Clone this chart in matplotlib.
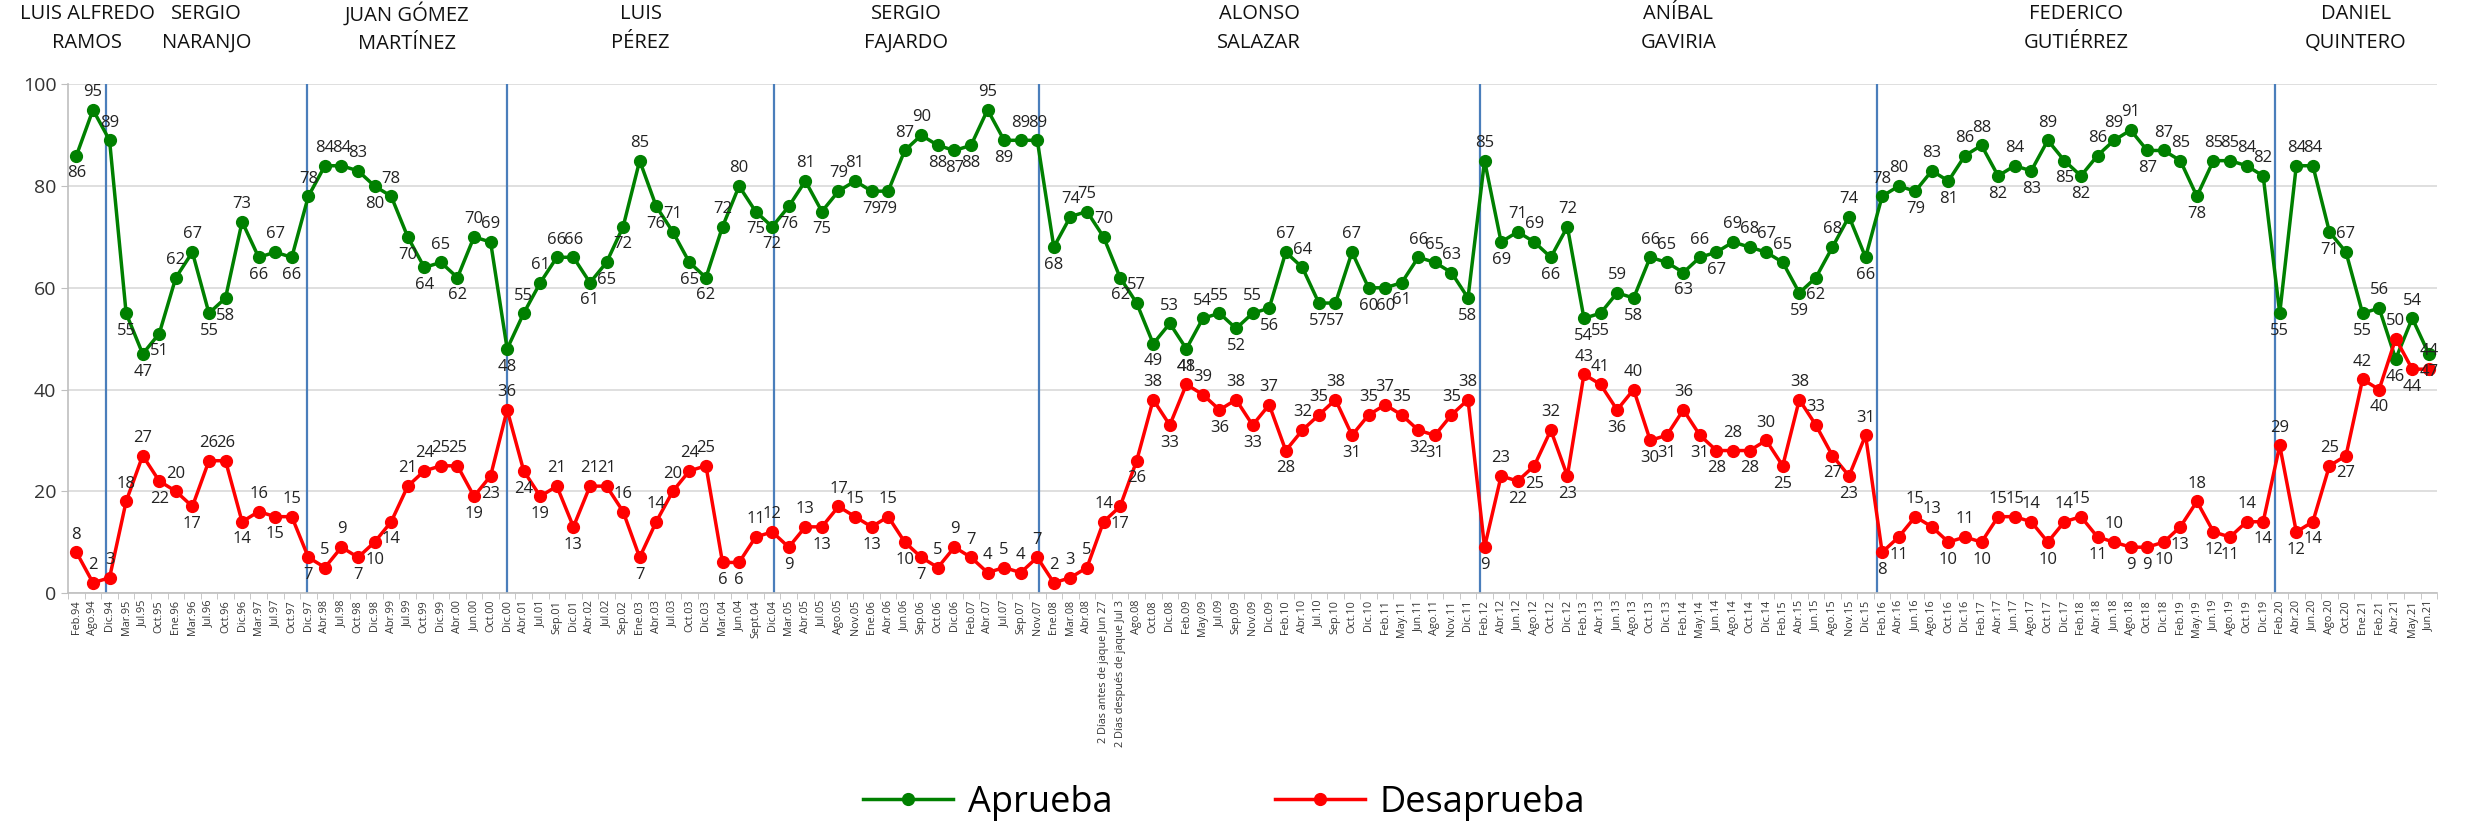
import matplotlib
matplotlib.use("Agg")
import matplotlib.pyplot as plt
import numpy as np

plt.rcParams['font.family'] = ['Open Sans', 'DejaVu Sans']

# Fechas de las encuestas
fechas = ['Feb.94', 'Ago.94', 'Dic.94', 'Mar.95', 'Jul.95', 'Oct.95', 'Ene.96', 'Mar.96', 'Jul.96', 'Oct.96',
          'Dic.96', 'Mar.97', 'Jul.97', 'Oct.97', 'Dic.97', 'Abr.98', 'Jul.98', 'Oct.98', 'Dic.98', 'Abr.99',
          'Jul.99', 'Oct.99', 'Dic.99', 'Abr.00', 'Jun.00', 'Oct.00', 'Dic.00', 'Abr.01', 'Jul.01', 'Sep.01',
          'Dic.01', 'Abr.02', 'Jul.02', 'Sep.02', 'Ene.03', 'Abr.03', 'Jul.03', 'Oct.03', 'Dic.03', 'Mar.04',
          'Jun.04', 'Sept.04', 'Dic.04', 'Mar.05', 'Abr.05', 'Jul.05', 'Ago.05', 'Nov.05', 'Ene.06', 'Abr.06',
          'Jun.06', 'Sep.06', 'Oct.06', 'Dic.06', 'Feb.07', 'Abr.07', 'Jul.07', 'Sep.07', 'Nov.07', 'Ene.08',
          'Mar.08', 'Abr.08', '2 Días antes de jaque Jun 27', '2 Días después de jaque Jul 3', 'Ago.08',
          'Oct.08', 'Dic.08', 'Feb.09', 'May.09', 'Jul.09', 'Sep.09', 'Nov.09', 'Dic.09', 'Feb.10', 'Abr.10',
          'Jul.10', 'Sep.10', 'Oct.10', 'Dic.10', 'Feb.11', 'May.11', 'Jun.11', 'Ago.11', 'Nov.11', 'Dic.11',
          'Feb.12', 'Abr.12', 'Jun.12', 'Ago.12', 'Oct.12', 'Dic.12', 'Feb.13', 'Abr.13', 'Jun.13', 'Ago.13',
          'Oct.13', 'Dic.13', 'Feb.14', 'May.14', 'Jun.14', 'Ago.14', 'Oct.14', 'Dic.14', 'Feb.15', 'Abr.15',
          'Jun.15', 'Ago.15', 'Nov.15', 'Dic.15', 'Feb.16', 'Abr.16', 'Jun.16', 'Ago.16', 'Oct.16', 'Dic.16',
          'Feb.17', 'Abr.17', 'Jun.17', 'Ago.17', 'Oct.17', 'Dic.17', 'Feb.18', 'Abr.18', 'Jun.18', 'Ago.18',
          'Oct.18', 'Dic.18', 'Feb.19', 'May.19', 'Jun.19', 'Ago.19', 'Oct.19', 'Dic.19', 'Feb.20', 'Abr.20',
          'Jun.20', 'Ago.20', 'Oct.20', 'Ene.21', 'Feb.21', 'Abr.21', 'May.21', 'Jun.21']

aprueba = [86, 95, 89, 55, 47, 51, 62, 67, 55, 58,
           73, 66, 67, 66, 78, 84, 84, 83, 80, 78,
           70, 64, 65, 62, 70, 69, 48, 55, 61, 66,
           66, 61, 65, 72, 85, 76, 71, 65, 62, 72,
           80, 75, 72, 76, 81, 75, 79, 81, 79, 79,
           87, 90, 88, 87, 88, 95, 89, 89, 89, 68,
           74, 75, 70, 62, 57, 49, 53, 48, 54, 55,
           52, 55, 56, 67, 64, 57, 57, 67, 60, 60,
           61, 66, 65, 63, 58, 85, 69, 71, 69, 66,
           72, 54, 55, 59, 58, 66, 65, 63, 66, 67,
           69, 68, 67, 65, 59, 62, 68, 74, 66, 78,
           80, 79, 83, 81, 86, 88, 82, 84, 83, 89,
           85, 82, 86, 89, 91, 87, 87, 85, 78, 85,
           85, 84, 82, 55, 84, 84, 71, 67, 55, 56,
           46, 54, 47]

desaprueba = [8, 2, 3, 18, 27, 22, 20, 17, 26, 26,
              14, 16, 15, 15, 7, 5, 9, 7, 10, 14,
              21, 24, 25, 25, 19, 23, 36, 24, 19, 21,
              13, 21, 21, 16, 7, 14, 20, 24, 25, 6,
              6, 11, 12, 9, 13, 13, 17, 15, 13, 15,
              10, 7, 5, 9, 7, 4, 5, 4, 7, 2,
              3, 5, 14, 17, 26, 38, 33, 41, 39, 36,
              38, 33, 37, 28, 32, 35, 38, 31, 35, 37,
              35, 32, 31, 35, 38, 9, 23, 22, 25, 32,
              23, 43, 41, 36, 40, 30, 31, 36, 31, 28,
              28, 28, 30, 25, 38, 33, 27, 23, 31, 8,
              11, 15, 13, 10, 11, 10, 15, 15, 14, 10,
              14, 15, 11, 10, 9, 9, 10, 13, 18, 12,
              11, 14, 14, 29, 12, 14, 25, 27, 42, 40,
              50, 44, 44]

alcaldes = ['LUIS ALFREDO\nRAMOS', 'SERGIO\nNARANJO', 'JUAN GÓMEZ\nMARTÍNEZ', 'LUIS\nPÉREZ',
            'SERGIO\nFAJARDO', 'ALONSO\nSALAZAR', 'ANÍBAL\nGAVIRIA', 'FEDERICO\nGUTIÉRREZ',
            'DANIEL\nQUINTERO']
# cambio de alcalde (posicion entre encuestas)
cambios = [1.77, 13.9, 26.0, 42.1, 58.1, 84.7, 108.7, 132.7]

verde = '#008000'
rojo = '#ff0000'
azul = '#4a7ebb'

fig = plt.figure(figsize=(24.78, 8.27), dpi=100)
ax = fig.add_axes([0.0275, 0.283, 0.956, 0.615])

x = np.arange(len(fechas))

for c in cambios:
    ax.axvline(c, color=azul, lw=1.6, zorder=1)

ax.plot(x, aprueba, color=verde, lw=2.5, marker='o', markersize=8.5, zorder=3, label='Aprueba')
ax.plot(x, desaprueba, color=rojo, lw=2.5, marker='o', markersize=8.5, zorder=3, label='Desaprueba')


def etiquetas(vals):
    for i, v in enumerate(vals):
        prev = vals[i - 1] if i > 0 else v
        nxt = vals[i + 1] if i < len(vals) - 1 else v
        # valores muy bajos siempre arriba para no tapar las fechas
        arriba = v >= (prev + nxt) / 2 or v <= 5
        ax.annotate(str(v), (i, v), xytext=(0, 7 if arriba else -7), textcoords='offset points',
                    ha='center', va='bottom' if arriba else 'top', fontsize=12, color='#222222',
                    zorder=4)


etiquetas(aprueba)
etiquetas(desaprueba)

ax.set_xlim(-0.5, len(fechas) - 0.5)
ax.set_ylim(0, 100)
ax.set_yticks(range(0, 101, 20))
ax.tick_params(axis='y', labelsize=14, length=5, color='#bfbfbf', labelcolor='#333333')
ax.set_xticks(x)
ax.set_xticklabels(fechas, rotation=90, fontsize=7.8, color='#333333')
ax.tick_params(axis='x', which='major', length=0, pad=5)
ax.set_xticks(np.arange(-0.5, len(fechas), 1), minor=True)
ax.tick_params(axis='x', which='minor', length=4, color='#bfbfbf')

ax.yaxis.grid(True, color='#d9d9d9', lw=1.2)
ax.set_axisbelow(True)
for s in ['top', 'right']:
    ax.spines[s].set_visible(False)
for s in ['left', 'bottom']:
    ax.spines[s].set_color('#bfbfbf')
    ax.spines[s].set_linewidth(1.2)

# nombres de los alcaldes
bordes = [-0.5] + cambios + [len(fechas) - 0.5]
for k, nombre in enumerate(alcaldes):
    centro = (bordes[k] + bordes[k + 1]) / 2
    ax.text(centro, 1.11, nombre, transform=ax.get_xaxis_transform(), ha='center', va='center',
            fontsize=14.5, linespacing=1.55, color='#111111')

fig.legend(loc='center', bbox_to_anchor=(0.494, 0.029), ncol=2, frameon=False, fontsize=26,
           handlelength=2.5, columnspacing=4.5, handletextpad=0.4)

fig.savefig('out.png', dpi=100)
